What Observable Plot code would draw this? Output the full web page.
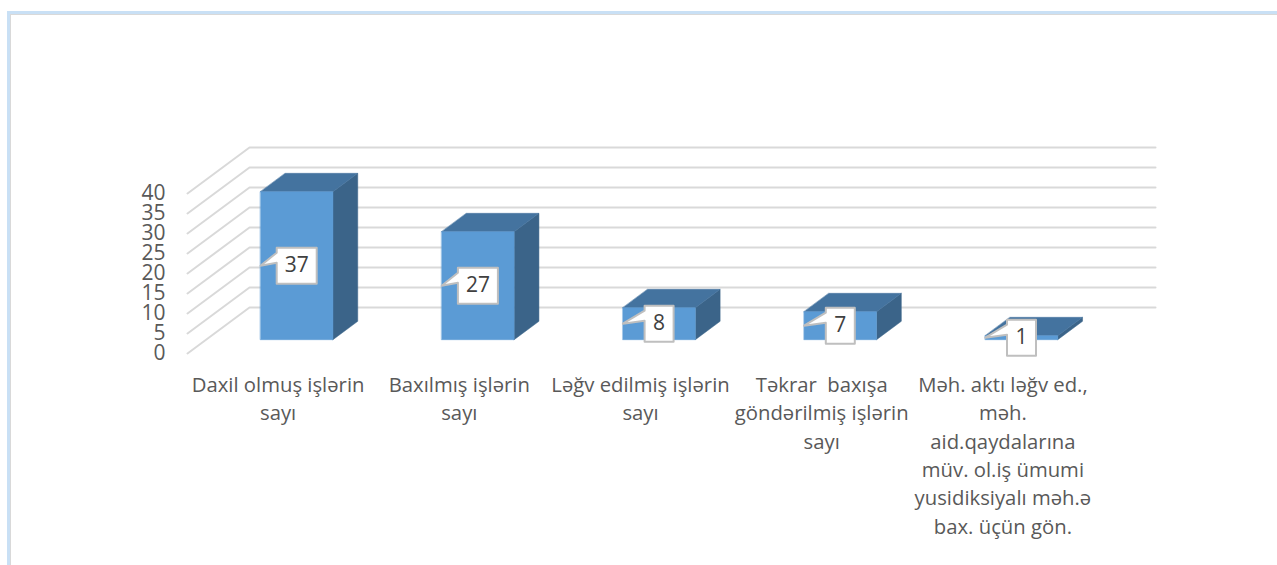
<!DOCTYPE html>
<html>
<head>
<meta charset="utf-8">
<script src="https://cdn.jsdelivr.net/npm/d3@7"></script>
<script src="https://cdn.jsdelivr.net/npm/@observablehq/plot@0.6"></script>
<style>
html,body{margin:0;padding:0;background:#fff;overflow:hidden;width:1277px;height:565px}
#chart{position:absolute;left:0;top:0}
#chart svg{background:transparent;display:block}
#edge{position:absolute;left:7px;top:11px;right:-10px;bottom:-10px;border-top:3px solid #c9e0f5;border-left:3px solid #c9e0f5;box-shadow:inset 1px 1px 0 #d9d9d9}
</style>
</head>
<body>
<div id="edge"></div>
<div id="chart"></div>
<script>
const categories = [
  "Daxil olmuş işlərin\nsayı",
  "Baxılmış işlərin\nsayı",
  "Ləğv edilmiş işlərin\nsayı",
  "Təkrar  baxışa\ngöndərilmiş işlərin\nsayı",
  "Məh. aktı ləğv ed.,\nməh.\naid.qaydalarına\nmüv. ol.iş ümumi\nyusidiksiyalı məh.ə\nbax. üçün gön."
];
const values = [37, 27, 8, 7, 1];
const yTicks = [0, 5, 10, 15, 20, 25, 30, 35, 40];
const colors = {front: "#5b9bd5", top: "#44739f", side: "#3b6489", grid: "#d9d9d9", box: "#bfbfbf", axis: "#595959", label: "#404040"};

// oblique projection of the chart's 3-D space, in data units of the x and y scales
const shearX = 62 / 181.2, shearY = 46 / 4;
const P = (c, v, d) => ({x: c + d * shearX, y: v + d * shearY});
const barFront = 0.3, barBack = 0.7, barInset = 0.3, barWide = 0.4;
const boxHalfW = {1: 14.5 / 181.2, 2: 20 / 181.2};
const boxHalfH = 18 / 4;
const tail = [13 / 4, 3 / 4];

const poly = (id, pts) => pts.map(p => ({id, ...p}));

const gridRows = yTicks.flatMap(v => poly(v, [P(0, v, 0), P(0, v, 1), P(categories.length, v, 1)]));

const fronts = [], tops = [], sides = [];
values.forEach((v, i) => {
  const l = i + barInset, r = l + barWide;
  fronts.push(...poly(i, [P(l, 0, barFront), P(r, 0, barFront), P(r, v, barFront), P(l, v, barFront)]));
  tops.push(...poly(i, [P(l, v, barFront), P(r, v, barFront), P(r, v, barBack), P(l, v, barBack)]));
  sides.push(...poly(i, [P(r, 0, barFront), P(r, 0, barBack), P(r, v, barBack), P(r, v, barFront)]));
});

const calloutRows = values.flatMap((v, i) => {
  const c = i + 0.5, m = v / 2, hw = boxHalfW[String(v).length], left = c - hw, right = c + hw;
  return poly(i, [
    P(left, m + boxHalfH, barFront), P(right, m + boxHalfH, barFront),
    P(right, m - boxHalfH, barFront), P(left, m - boxHalfH, barFront),
    P(left, m + tail[1], barFront), P(i + barInset, m, barFront), P(left, m + tail[0], barFront)
  ]);
});
const calloutText = values.map((v, i) => ({...P(i + 0.5, v / 2, barFront), v}));

const face = (rows, fill) => Plot.line(rows, {x: "x", y: "y", z: "id", fill, stroke: fill, strokeWidth: 0.5, curve: "linear-closed"});

const chart = Plot.plot({
  width: 1277,
  height: 565,
  marginLeft: 187,
  marginRight: 184,
  marginTop: 193,
  marginBottom: 212,
  style: {fontFamily: "'Open Sans', sans-serif", background: "transparent", overflow: "visible"},
  x: {domain: [0, categories.length]},
  y: {domain: [0, 40]},
  marks: [
    Plot.line(gridRows, {x: "x", y: "y", z: "id", stroke: colors.grid, strokeWidth: 2}),
    face(sides, colors.side),
    face(tops, colors.top),
    face(fronts, colors.front),
    Plot.line(calloutRows, {x: "x", y: "y", z: "id", fill: "#fff", stroke: colors.box, strokeWidth: 2, curve: "linear-closed"}),
    Plot.text(calloutText, {x: "x", y: "y", text: "v", fontSize: 21, fill: colors.label}),
    Plot.axisY(yTicks, {tickSize: 0, tickPadding: 22, fontSize: 21, color: colors.axis, label: null}),
    Plot.axisX(categories.map((_, i) => i + 0.5), {
      tickSize: 0, tickPadding: 18, fontSize: 20.3, lineHeight: 1.4, color: colors.axis, label: null,
      tickFormat: d => categories[d - 0.5]
    })
  ]
});
document.getElementById("chart").append(chart);
</script>
</body>
</html>
